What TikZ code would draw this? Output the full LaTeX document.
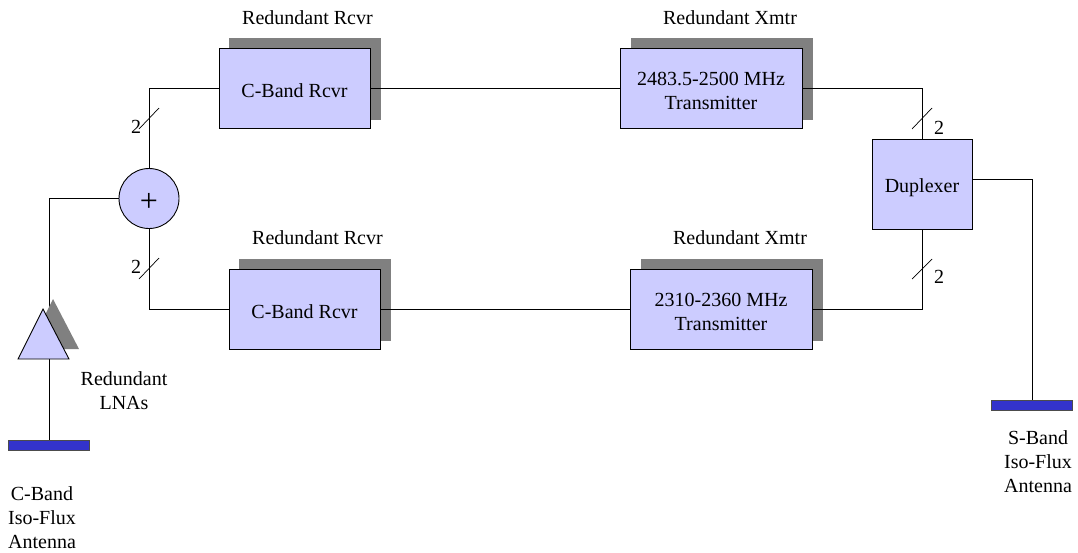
\documentclass[tikz,border=0pt]{standalone}
\usepackage{fontspec}
\setmainfont{Liberation Serif}
\newcommand{\topgap}[1]{\rule{0pt}{#1pt}}
\begin{document}
\begin{tikzpicture}[x=1pt,y=-1pt,
  blockbox/.style={draw=black,fill=boxfill,line width=0.9pt,minimum width=151pt,minimum height=80pt,inner sep=0pt,align=center,font=\fontsize{20}{24}\selectfont},
  xmtrbox/.style={blockbox,minimum width=182pt},
  wire/.style={draw=black,line width=0.8pt},
  tick/.style={draw=black,line width=0.7pt},
  lab/.style={inner sep=0pt,align=center,font=\fontsize{20}{24}\selectfont},
  antbar/.style={fill=barblue,draw=black!70,line width=0.7pt,inner sep=0pt,minimum width=81pt,minimum height=10pt}]
\definecolor{boxfill}{HTML}{CCCCFF}
\definecolor{shadowgrey}{HTML}{808080}
\definecolor{barblue}{HTML}{3333CC}
\useasboundingbox (0,0) rectangle (1078,552);
% shadows
\fill[shadowgrey] (229,38) rectangle (381,120);
\fill[shadowgrey] (631,38) rectangle (813,120);
\fill[shadowgrey] (239,259) rectangle (391,341);
\fill[shadowgrey] (641,259) rectangle (823,341);
% nodes
\node[blockbox] (r1) at (294.5,88) {\topgap{19.5}C-Band Rcvr};
\node[blockbox] (r2) at (304.5,309) {\topgap{19.5}C-Band Rcvr};
\node[xmtrbox] (x1) at (711,88) {\topgap{18.5}2483.5-2500 MHz\\Transmitter};
\node[xmtrbox] (x2) at (721,309) {\topgap{18.5}2310-2360 MHz\\Transmitter};
\node[blockbox,minimum width=100pt,minimum height=90pt] (dup) at (922,184) {\topgap{20.5}Duplexer};
\node[circle,draw=black,fill=boxfill,line width=0.9pt,minimum size=60pt,inner sep=0pt] (sum) at (149,198.5) {};
\node[lab,font=\fontsize{32}{32}\selectfont] (plus) at (149,202) {+};
\coordinate (lnatop) at (49,320);
\coordinate (lnabot) at (49,359);
\node[antbar] (cant) at (49,445) {};
\node[antbar] (sant) at (1032,405) {};
% connectors
\draw[wire] (sum.north) |- (r1.west);
\draw[wire] (sum.south) |- (r2.west);
\draw[wire] (r1.east) -- (x1.west);
\draw[wire] (r2.east) -- (x2.west);
\draw[wire] (x1.east) -| (dup.north);
\draw[wire] (x2.east) -| (dup.south);
\draw[wire] ([yshift=5pt]dup.east) -| (sant.north);
\draw[wire] (sum.west) -| (lnatop);
\draw[wire] (lnabot) -- (cant.north);
% triangle
\fill[shadowgrey] (53,299) -- (79,349) -- (28,349) -- cycle;
\draw[fill=boxfill,draw=black,line width=0.9pt] (43,309) -- (69,359) -- (18,359) -- cycle;
% ticks
\coordinate (t1a) at (139,129);
\coordinate (t1b) at (159,108);
\coordinate (t2a) at (139,279);
\coordinate (t2b) at (159,258);
\coordinate (t3a) at (912,129);
\coordinate (t3b) at (932,108);
\coordinate (t4a) at (912,279);
\coordinate (t4b) at (932,259);
\draw[tick] (t1a) -- (t1b);
\draw[tick] (t2a) -- (t2b);
\draw[tick] (t3a) -- (t3b);
\draw[tick] (t4a) -- (t4b);
\node[lab] (n1) at (136,127) {2};
\node[lab] (n2) at (136,267) {2};
\node[lab] (n3) at (939,128) {2};
\node[lab] (n4) at (939,277) {2};
% labels
\node[lab] (l1) at (307.5,18) {Redundant Rcvr};
\node[lab] (l2) at (730,18) {Redundant Xmtr};
\node[lab] (l3) at (317.5,238) {Redundant Rcvr};
\node[lab] (l4) at (740,238) {Redundant Xmtr};
\node[lab] (l5) at (124,391) {Redundant\\LNAs};
\node[lab] (l6) at (42,518) {C-Band\\Iso-Flux\\Antenna};
\node[lab] (l7) at (1038,462) {S-Band\\Iso-Flux\\Antenna};
\end{tikzpicture}
\end{document}
